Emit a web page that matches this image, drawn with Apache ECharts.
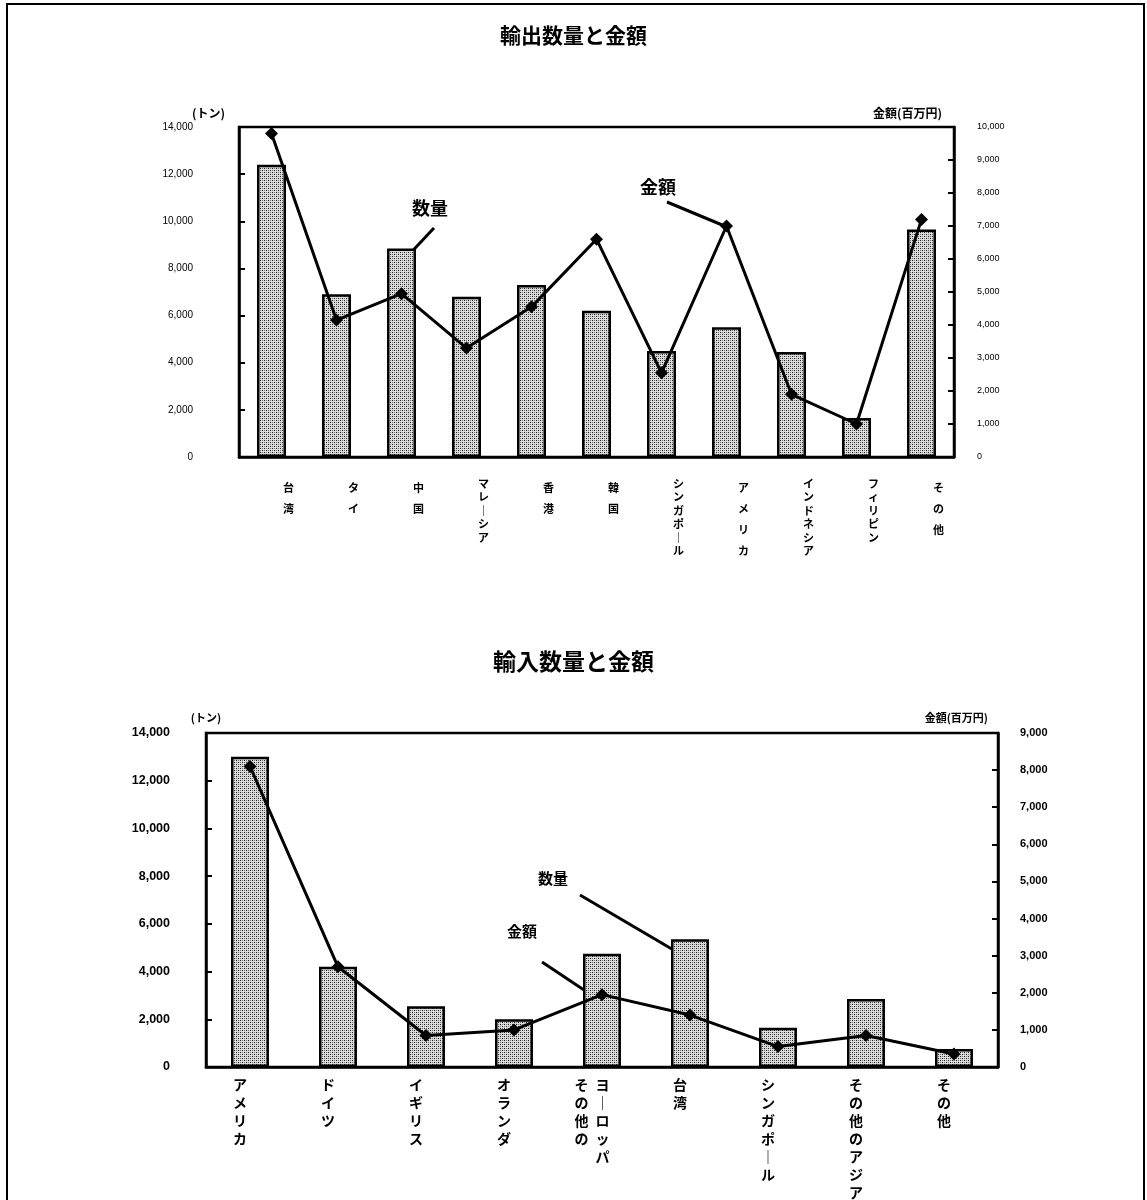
<!DOCTYPE html>
<html>
<head>
<meta charset="utf-8">
<script src="https://cdn.jsdelivr.net/npm/echarts@6/dist/echarts.min.js"></script>
<style>
html,body{margin:0;padding:0;background:#fff;}
#c{width:1147px;height:1200px;}
</style>
</head>
<body>
<div id="c"></div>
<script>
// ---- Data: export (輸出) ----
const exportCategories = ['台湾','タイ','中国','マレーシア','香港','韓国','シンガポール','アメリカ','インドネシア','フィリピン','その他'];
const exportQuantity = [12400, 6900, 8850, 6800, 7300, 6200, 4500, 5500, 4450, 1650, 9650];   // トン
const exportAmount   = [9800, 4150, 4950, 3300, 4550, 6600, 2550, 7000, 1900, 1000, 7200];    // 百万円

// ---- Data: import (輸入) ----
const importCategories = ['アメリカ','ドイツ','イギリス','オランダ','その他のヨーロッパ','台湾','シンガポール','その他のアジア','その他'];
const importLabelColumns = [['アメリカ'],['ドイツ'],['イギリス'],['オランダ'],['その他の','ヨーロッパ'],['台湾'],['シンガポール'],['その他のアジア'],['その他']];
const importQuantity = [13000, 4200, 2550, 2000, 4750, 5350, 1650, 2850, 750];
const importAmount   = [8100, 2700, 850, 1000, 1950, 1400, 550, 850, 350];

const titles = ['輸出数量と金額','輸入数量と金額'];
const unitLeft = '(トン)';
const unitRight = '金額(百万円)';

// stipple pattern for bars
function makePattern(){
  const cv = document.createElement('canvas');
  cv.width = 4; cv.height = 4;
  const ctx = cv.getContext('2d');
  ctx.fillStyle = '#dcdcdc'; ctx.fillRect(0,0,4,4);
  ctx.fillStyle = '#1e1e1e';
  ctx.fillRect(0,0,1,1); ctx.fillRect(2,2,1,1);
  ctx.fillStyle = '#707070';
  ctx.fillRect(2,0,1,1); ctx.fillRect(0,2,1,1);
  return cv;
}
const pattern = {image: makePattern(), repeat: 'repeat'};

const FONT = '"Liberation Sans", "Noto Sans CJK JP", sans-serif';
const JFONT = '"Noto Sans CJK JP", sans-serif';
function vchar(c){ return c === 'ー' ? '｜' : c; }
function fmtNum(v){ return Number(v).toLocaleString('en-US'); }

function topLabel(v){
  const chars = v.split('').map(vchar).join('\n');
  return v.length <= 4 ? '{s|' + chars + '}' : '{l|' + chars + '}';
}
function bottomLabel(v, idx){
  const cols = importLabelColumns[idx];
  if (cols.length === 1) return '{b|' + cols[0].split('').map(vchar).join('\n') + '}';
  const n = Math.max.apply(null, cols.map(c => c.length));
  const rows = [];
  for (let i = 0; i < n; i++) {
    rows.push(cols.map(c => c[i] ? vchar(c[i]) : '\u3000').join('\u2002'));
  }
  return '{b|' + rows.join('\n') + '}';
}

const chart = echarts.init(document.getElementById('c'));
const axisLineStyle = {color:'#000', width:2.5};

const option = {
  backgroundColor: '#fff',
  animation: false,
  title: [
    {text: titles[0], left: 'center', top: 20, textStyle:{fontFamily: JFONT, fontSize: 21, fontWeight:'bold', color:'#000'}},
    {text: titles[1], left: 'center', top: 645, textStyle:{fontFamily: JFONT, fontSize: 23, fontWeight:'bold', color:'#000'}}
  ],
  grid: [
    {left: 239, right: 193, top: 127, height: 330, show: true, borderColor:'#000', borderWidth: 2.5, containLabel:false},
    {left: 206, right: 149, top: 733, height: 343, show: true, borderColor:'#000', borderWidth: 2.5, containLabel:false}
  ],
  xAxis: [
    {type:'category', gridIndex:0, data: exportCategories,
     axisLine:{lineStyle:axisLineStyle}, axisTick:{inside:true, length:6, lineStyle:{width:2,color:'#000'}},
     axisLabel:{interval:0, margin:20, color:'#000', formatter: topLabel, align:'center', verticalAlign:'top',
       padding:[0,0,0,34],
       rich:{ s:{fontFamily:JFONT, fontSize:11, lineHeight:21, color:'#000', fontWeight:'bold'},
              l:{fontFamily:JFONT, fontSize:11, lineHeight:13.5, color:'#000', fontWeight:'bold'} }}},
    {type:'category', gridIndex:1, data: importCategories,
     axisLine:{lineStyle:axisLineStyle}, axisTick:{inside:true, length:7, lineStyle:{width:2,color:'#000'}},
     axisLabel:{interval:0, margin:9, color:'#000', formatter: bottomLabel, align:'center', verticalAlign:'top',
       padding:[0,20,0,0],
       rich:{ b:{fontFamily:JFONT, fontSize:14, lineHeight:18, color:'#000', fontWeight:'bold'} }}}
  ],
  yAxis: [
    {type:'value', gridIndex:0, min:0, max:14000, interval:2000, position:'left',
     name: unitLeft, nameLocation:'end', nameGap: 8, nameTextStyle:{fontFamily:JFONT, fontSize:12, fontWeight:'bold', color:'#000', align:'right', padding:[0,14,0,0]},
     axisLine:{show:true, lineStyle:axisLineStyle}, axisTick:{show:true, inside:true, length:6, lineStyle:{width:2,color:'#000'}},
     splitLine:{show:false},
     axisLabel:{margin:46, color:'#000', fontFamily:FONT, fontSize:10, formatter: fmtNum}},
    {type:'value', gridIndex:0, min:0, max:10000, interval:1000, position:'right',
     name: unitRight, nameLocation:'end', nameGap: 8, nameTextStyle:{fontFamily:JFONT, fontSize:12, fontWeight:'bold', color:'#000', align:'right', padding:[0,12,0,0]},
     axisLine:{show:true, lineStyle:axisLineStyle}, axisTick:{show:true, inside:true, length:6, lineStyle:{width:2,color:'#000'}},
     splitLine:{show:false},
     axisLabel:{margin:23, color:'#000', fontFamily:FONT, fontSize:9, formatter: fmtNum}},
    {type:'value', gridIndex:1, min:0, max:14000, interval:2000, position:'left',
     name: unitLeft, nameLocation:'end', nameGap: 10, nameTextStyle:{fontFamily:JFONT, fontSize:11, fontWeight:'bold', color:'#000', align:'center', padding:[0,0,0,0]},
     axisLine:{show:true, lineStyle:axisLineStyle}, axisTick:{show:true, inside:true, length:6, lineStyle:{width:2,color:'#000'}},
     splitLine:{show:false},
     axisLabel:{margin:36, color:'#000', fontFamily:FONT, fontSize:12.5, fontWeight:'bold', formatter: fmtNum}},
    {type:'value', gridIndex:1, min:0, max:9000, interval:1000, position:'right',
     name: unitRight, nameLocation:'end', nameGap: 10, nameTextStyle:{fontFamily:JFONT, fontSize:11, fontWeight:'bold', color:'#000', align:'right', padding:[0,10,0,0]},
     axisLine:{show:true, lineStyle:axisLineStyle}, axisTick:{show:true, inside:true, length:6, lineStyle:{width:2,color:'#000'}},
     splitLine:{show:false},
     axisLabel:{margin:22, color:'#000', fontFamily:FONT, fontSize:11, fontWeight:'bold', formatter: fmtNum}}
  ],
  series: [
    {name:'数量', type:'bar', xAxisIndex:0, yAxisIndex:0, data: exportQuantity, barWidth: 29,
     itemStyle:{color: pattern, borderColor:'#000', borderWidth:2.5}},
    {name:'金額', type:'line', xAxisIndex:0, yAxisIndex:1, data: exportAmount,
     symbol:'diamond', symbolSize:13, lineStyle:{color:'#000', width:3}, itemStyle:{color:'#000'}},
    {name:'数量', type:'bar', xAxisIndex:1, yAxisIndex:2, data: importQuantity, barWidth: 38,
     itemStyle:{color: pattern, borderColor:'#000', borderWidth:2.5}},
    {name:'金額', type:'line', xAxisIndex:1, yAxisIndex:3, data: importAmount,
     symbol:'diamond', symbolSize:13, lineStyle:{color:'#000', width:3}, itemStyle:{color:'#000'}}
  ],
  graphic: [
    {type:'rect', shape:{x:7, y:4, width:1137, height:1210}, style:{fill:'none', stroke:'#000', lineWidth:2}, silent:true},
    // export callouts
    {type:'text', left: 412, top: 199, style:{text:'数量', font:'bold 18px "Noto Sans CJK JP"', fill:'#000'}},
    {type:'line', shape:{x1:434, y1:228, x2:403, y2:261}, style:{stroke:'#000', lineWidth:3}},
    {type:'text', left: 640, top: 178, style:{text:'金額', font:'bold 18px "Noto Sans CJK JP"', fill:'#000'}},
    {type:'line', shape:{x1:667, y1:202, x2:727, y2:227}, style:{stroke:'#000', lineWidth:3}},
    // import callouts
    {type:'text', left: 538, top: 871, style:{text:'数量', font:'bold 15px "Noto Sans CJK JP"', fill:'#000'}},
    {type:'line', shape:{x1:580, y1:895, x2:682, y2:955}, style:{stroke:'#000', lineWidth:3}},
    {type:'text', left: 507, top: 924, style:{text:'金額', font:'bold 15px "Noto Sans CJK JP"', fill:'#000'}},
    {type:'line', shape:{x1:542, y1:962, x2:602, y2:1002}, style:{stroke:'#000', lineWidth:3}}
  ]
};
chart.setOption(option);
</script>
</body>
</html>
